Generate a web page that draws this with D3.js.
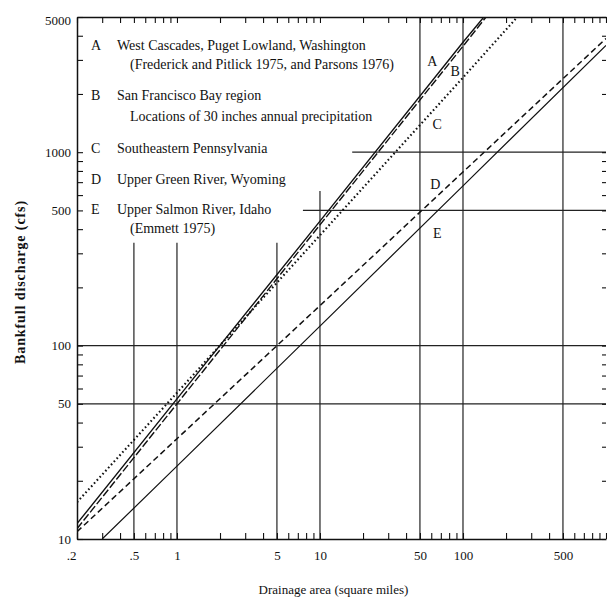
<!DOCTYPE html>
<html><head><meta charset="utf-8">
<script src="https://cdn.jsdelivr.net/npm/d3@7/dist/d3.min.js"></script>
<style>
body{margin:0;background:#fff}
text{font-family:"Liberation Serif","Times New Roman",serif;fill:#111}
</style>
</head><body>
<svg id="c" width="607" height="602"></svg>
<script>
// ---------- data ----------
const xTickValues = [0.2, 0.5, 1, 5, 10, 50, 100, 500];
const xTickLabels = [".2", ".5", "1", "5", "10", "50", "100", "500"];
const yTickValues = [10, 50, 100, 500, 1000, 5000];
const yTickLabels = ["10", "50", "100", "500", "1000", "5000"];

const seriesKeys = ["A", "B", "C", "D", "E"];
const areaA = [0.2, 1, 10, 100, 140];
const qA    = [12, 53, 440, 3700, 5000];
const areaB = [0.2, 1, 10, 100, 145];
const qB    = [11.3, 50, 421, 3530, 5000];
const areaC = [0.2, 1, 10, 100, 240];
const qC    = [15.5, 57, 372, 2430, 5000];
const areaD = [0.2, 1, 10, 100, 1000];
const qD    = [10.9, 33, 161, 790, 3870];
const areaE = [0.3, 1, 10, 100, 1000];
const qE    = [10, 23.8, 126, 670, 3560];

const legendMain = [
  "West Cascades, Puget Lowland, Washington",
  "San Francisco Bay region",
  "Southeastern Pennsylvania",
  "Upper Green River, Wyoming",
  "Upper Salmon River, Idaho"
];
const legendSub = [
  "(Frederick and Pitlick 1975, and Parsons 1976)",
  "Locations of 30 inches annual precipitation",
  "",
  "",
  "(Emmett 1975)"
];
// label anchors for the line letters, in data units (area, discharge)
const labelArea = [61, 88, 66, 64, 66];
const labelQ    = [2950, 2600, 1384, 677, 382];

// grid lines (data units)
const vGridArea = [0.5, 1, 5, 10, 50, 100, 500];
const vGridTopQ = [340, 340, 340, 630, 5000, 5000, 5000];
const hGridQ    = [50, 100, 500, 1000];
const hGridFromArea = [0.2, 0.2, 7.6, 16.8];

const xTitle = "Drainage area (square miles)";
const yTitle = "Bankfull discharge (cfs)";

// ---------- layout ----------
const L = 77, R = 606, T = 17, B = 539;
const svg = d3.select("#c");
const x = d3.scaleLog().domain([0.2, 1000]).range([L, R]);
const y = d3.scaleLog().domain([10, 5000]).range([B, T]);
const ink = "#111";

// grid
const g = svg.append("g").attr("stroke", "#222").attr("stroke-width", 1.2);
vGridArea.forEach((a, i) => {
  g.append("line").attr("x1", x(a)).attr("x2", x(a)).attr("y1", y(10)).attr("y2", y(vGridTopQ[i]));
});
hGridQ.forEach((q, i) => {
  g.append("line").attr("x1", x(hGridFromArea[i])).attr("x2", x(1000)).attr("y1", y(q)).attr("y2", y(q));
});

// axes (minor ticks inward)
function styleAxis(sel){ sel.selectAll(".domain").attr("stroke", ink).attr("stroke-width", 1.5);
  sel.selectAll(".tick line").attr("stroke", ink).attr("stroke-width", 1.1); }
const yMinor = y.ticks();
const xMinor = x.ticks();
svg.append("g").attr("transform", `translate(${L},0)`)
  .call(d3.axisRight(y).tickValues(yMinor).tickSize(6).tickSizeOuter(0).tickFormat(""))
  .call(styleAxis);
svg.append("g").attr("transform", `translate(${R},0)`)
  .call(d3.axisLeft(y).tickValues(yMinor).tickSize(4).tickSizeOuter(0).tickFormat(""))
  .call(s => { styleAxis(s); s.select(".domain").remove(); });
svg.append("g").attr("transform", `translate(0,${T})`)
  .call(d3.axisBottom(x).tickValues(xMinor).tickSize(6).tickSizeOuter(0).tickFormat(""))
  .call(styleAxis);
svg.append("g").attr("transform", `translate(0,${B})`)
  .call(d3.axisTop(x).tickValues(xMinor).tickSize(6).tickSizeOuter(0).tickFormat(""))
  .call(styleAxis);

// tick labels
const yl = svg.append("g").attr("transform", `translate(${L},0)`)
  .call(d3.axisLeft(y).tickValues(yTickValues).tickSize(0).tickPadding(6)
        .tickFormat((d) => yTickLabels[yTickValues.indexOf(d)]));
yl.select(".domain").remove();
yl.attr("font-family", "Liberation Serif, serif").attr("font-size", 13);
yl.selectAll("text").attr("fill", ink).attr("dy", (d, i) => d === 5000 ? "0.55em" : "0.32em");

const xl = svg.append("g").attr("transform", `translate(0,${B})`)
  .call(d3.axisBottom(x).tickValues(xTickValues).tickSize(0).tickPadding(12)
        .tickFormat((d) => xTickLabels[xTickValues.indexOf(d)]));
xl.select(".domain").remove();
xl.attr("font-family", "Liberation Serif, serif").attr("font-size", 13);
xl.selectAll("text").attr("fill", ink).attr("dx", (d, i) => i === 0 ? -6 : 0);

// series lines
svg.append("clipPath").attr("id", "clip").append("rect")
  .attr("x", L).attr("y", T).attr("width", R - L).attr("height", B - T);
const areas = [areaA, areaB, areaC, areaD, areaE];
const qs = [qA, qB, qC, qD, qE];
const dashes = ["none", "8,2.5", "1.6,2.6", "6,3.5", "none"];
const widths = [1.4, 1.4, 2.1, 1.5, 1.2];
const line = d3.line().x(d => x(d[0])).y(d => y(d[1]));
const lg = svg.append("g").attr("clip-path", "url(#clip)");
seriesKeys.forEach((k, i) => {
  lg.append("path")
    .datum(areas[i].map((a, j) => [a, qs[i][j]]))
    .attr("d", line)
    .attr("fill", "none")
    .attr("stroke", ink)
    .attr("stroke-width", widths[i])
    .attr("stroke-dasharray", dashes[i]);
});

// line letters
seriesKeys.forEach((k, i) => {
  svg.append("text").attr("x", x(labelArea[i])).attr("y", y(labelQ[i]))
    .attr("text-anchor", "middle").attr("dominant-baseline", "central")
    .attr("font-size", 14).text(k);
});

// legend
const legBase = [50, 100, 153, 184, 214];
const subBase = [69, 121, 0, 0, 233];
seriesKeys.forEach((k, i) => {
  svg.append("text").attr("x", 91).attr("y", legBase[i]).attr("font-size", 14).text(k);
  svg.append("text").attr("x", 117).attr("y", legBase[i]).attr("font-size", 14).text(legendMain[i]);
  if (legendSub[i]) svg.append("text").attr("x", 130).attr("y", subBase[i]).attr("font-size", 14).text(legendSub[i]);
});

// axis titles
svg.append("text").attr("x", (L + R) / 2 - 8).attr("y", 594).attr("text-anchor", "middle")
  .attr("font-size", 13).text(xTitle);
svg.append("text").attr("transform", `translate(25,${(T + B) / 2 + 4}) rotate(-90)`)
  .attr("text-anchor", "middle").attr("font-size", 14).attr("letter-spacing", 0.9)
  .attr("font-weight", "bold").text(yTitle);
</script>
</body></html>
